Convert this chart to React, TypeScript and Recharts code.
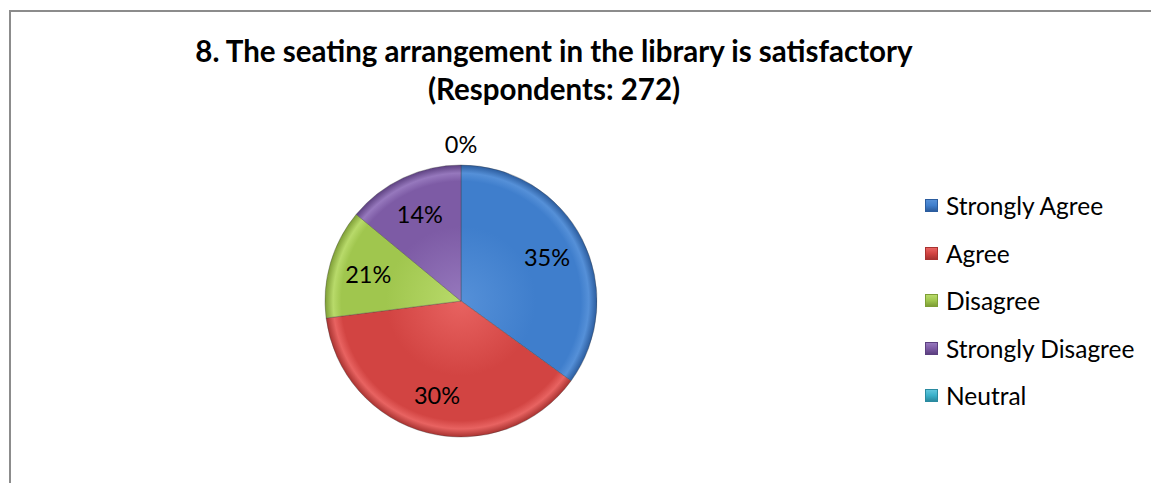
import { Legend, Pie, PieChart, Cell } from "recharts";

// slice sizes as drawn (percent of the circle)
const categories = ["Strongly Agree", "Agree", "Disagree", "Strongly Disagree", "Neutral"];
const shares = [35, 38, 13, 14, 0];
// data labels as printed on the chart
const labelTexts = ["35%", "30%", "21%", "14%", "0%"];
const colors = ["#3F7ECC", "#D24442", "#A0C64E", "#7D5BA5", "#3BB0C9"];
const darks = ["#2B5C9E", "#A83230", "#7E9E36", "#5C4080", "#2A8AA0"];
const lights = ["#5590D8", "#E86361", "#B8DA6A", "#9678BD", "#60C6DC"];

const data = categories.map((name, i) => ({ name, value: shares[i], label: labelTexts[i] }));

const RAD = Math.PI / 180;
const FONT = "Lato, 'Liberation Sans', sans-serif";

const renderLabel = (props: any) => {
  const { cx, cy, midAngle, outerRadius, index, value } = props;
  const r = value === 0 ? outerRadius + 21 : outerRadius * 0.71;
  const x = cx + r * Math.cos(-midAngle * RAD);
  const y = cy + r * Math.sin(-midAngle * RAD);
  return (
    <text
      x={x}
      y={y}
      textAnchor="middle"
      dominantBaseline="central"
      fill="#000"
      fontFamily={FONT}
      fontSize={23.5}
    >
      {data[index].label}
    </text>
  );
};

const LegendBox = () => (
  <div style={{ fontFamily: FONT, fontSize: 24.5, color: "#000" }}>
    {data.map((d, i) => (
      <div key={d.name} style={{ display: "flex", alignItems: "center", height: 47.5 }}>
        <span
          style={{
            display: "inline-block",
            width: 11,
            height: 11,
            marginRight: 8,
            background: `linear-gradient(180deg, ${lights[i]}, ${colors[i]} 50%, ${darks[i]})`,
            border: `1px solid ${darks[i]}`,
          }}
        />
        <span>{d.name}</span>
      </div>
    ))}
  </div>
);

export default function App() {
  return (
    <div
      style={{
        position: "absolute",
        left: 0,
        top: 0,
        width: 1151,
        height: 483,
        background: "#fff",
        overflow: "hidden",
      }}
    >
      <div
        style={{
          position: "absolute",
          left: 9,
          top: 10,
          width: 1200,
          height: 500,
          borderLeft: "2px solid #8c8c8c",
          borderTop: "2px solid #8c8c8c",
        }}
      />
      <div
        style={{
          position: "absolute",
          left: 0,
          width: 1108,
          top: 32,
          textAlign: "center",
          fontFamily: FONT,
          fontWeight: 700,
          fontSize: 29.5,
          lineHeight: "38px",
          color: "#000",
        }}
      >
        8. The seating arrangement in the library is satisfactory
        <br />
        (Respondents: 272)
      </div>
      <PieChart width={1151} height={483} margin={{ top: 0, right: 0, bottom: 0, left: 0 }}>
        <defs>
          {colors.map((c, i) => (
            <radialGradient
              key={c}
              id={`g${i}`}
              gradientUnits="userSpaceOnUse"
              cx={461}
              cy={301}
              r={136}
            >
              <stop offset="0%" stopColor={lights[i]} />
              <stop offset="55%" stopColor={c} />
              <stop offset="88%" stopColor={c} />
              <stop offset="94%" stopColor={lights[i]} />
              <stop offset="100%" stopColor={darks[i]} />
            </radialGradient>
          ))}
        </defs>
        <Pie
          data={data}
          dataKey="value"
          nameKey="name"
          cx={461}
          cy={301}
          outerRadius={136}
          startAngle={90}
          endAngle={-270}
          label={renderLabel}
          labelLine={false}
          stroke="#3a3a3a"
          strokeOpacity={0.45}
          strokeWidth={0.75}
          isAnimationActive={false}
        >
          {data.map((d, i) => (
            <Cell key={d.name} fill={`url(#g${i})`} />
          ))}
        </Pie>
        <Legend
          layout="vertical"
          content={<LegendBox />}
          wrapperStyle={{ left: 925, top: 182, width: 226 }}
        />
      </PieChart>
    </div>
  );
}
